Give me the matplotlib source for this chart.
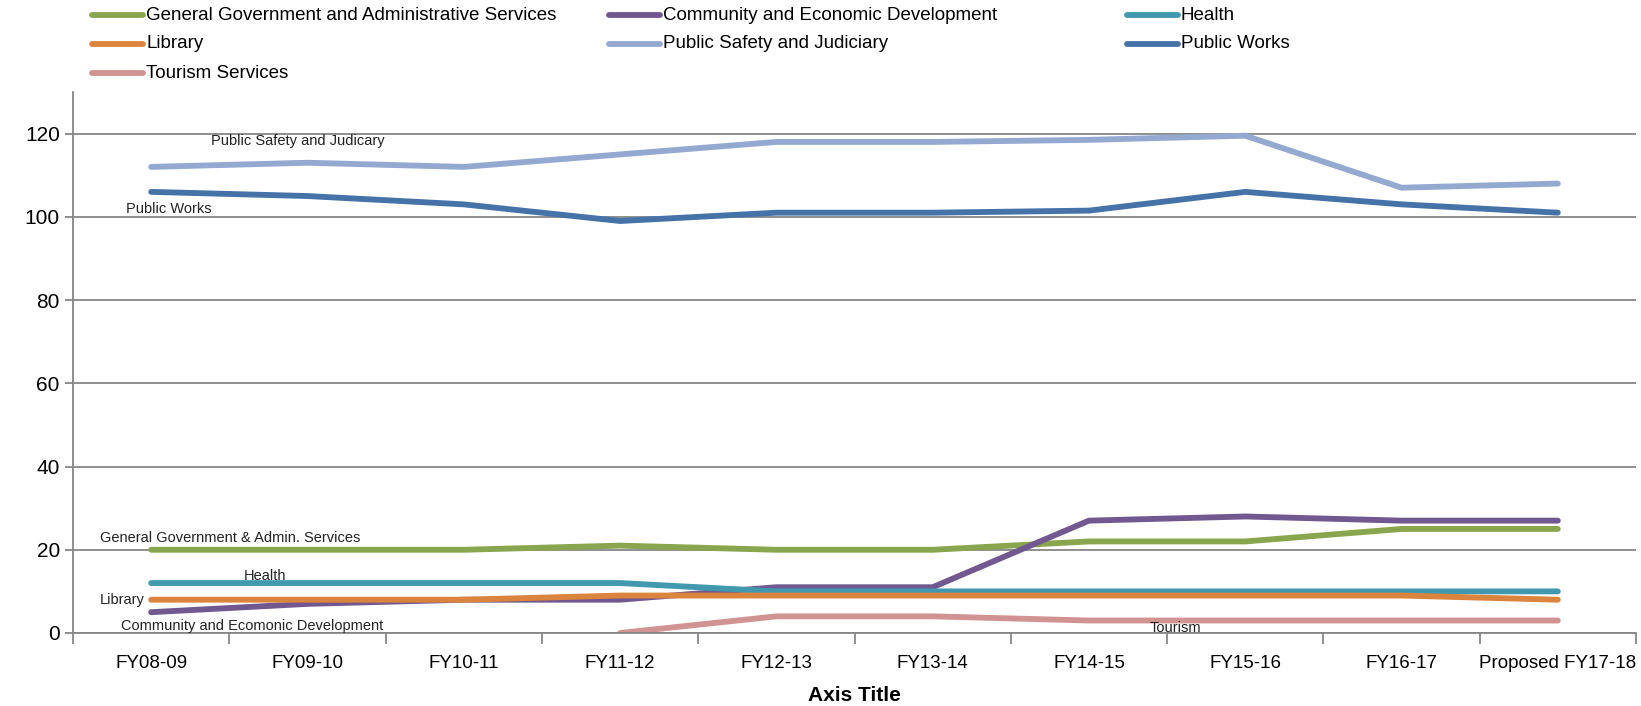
import numpy as np
import matplotlib.pyplot as plt
from matplotlib.lines import Line2D

plt.rcParams['font.family'] = ['Liberation Sans Narrow', 'Liberation Sans', 'DejaVu Sans']

years = ['FY08-09', 'FY09-10', 'FY10-11', 'FY11-12', 'FY12-13',
         'FY13-14', 'FY14-15', 'FY15-16', 'FY16-17', 'Proposed FY17-18']

general_gov = [20, 20, 20, 21, 20, 20, 22, 22, 25, 25]
community = [5, 7, 8, 8, 11, 11, 27, 28, 27, 27]
health = [12, 12, 12, 12, 10, 10, 10, 10, 10, 10]
library = [8, 8, 8, 9, 9, 9, 9, 9, 9, 8]
public_safety = [112, 113, 112, 115, 118, 118, 118.5, 119.5, 107, 108]
public_works = [106, 105, 103, 99, 101, 101, 101.5, 106, 103, 101]
tourism = [np.nan, np.nan, np.nan, 0, 4, 4, 3, 3, 3, 3]

series = [
    ('General Government and Administrative Services', general_gov, '#89A54E'),
    ('Community and Economic Development', community, '#71588F'),
    ('Health', health, '#4198AF'),
    ('Library', library, '#DB843D'),
    ('Public Safety and Judiciary', public_safety, '#93A9CF'),
    ('Public Works', public_works, '#4572A7'),
    ('Tourism Services', tourism, '#D19392'),
]

fig = plt.figure(figsize=(16.41, 7.06), dpi=100)
ax = fig.add_axes([73 / 1641, 1 - 633 / 706, (1636 - 73) / 1641, (633 - 92) / 706])

x = np.arange(len(years))
for name, vals, col in series:
    ax.plot(x, vals, color=col, lw=4.2, solid_capstyle='round',
            solid_joinstyle='round', label=name)

ax.set_xlim(-0.5, len(years) - 0.5)
ax.set_ylim(0, 130)
ax.set_yticks(range(0, 121, 20))
ax.yaxis.grid(True, color='#868686', lw=1.3)
ax.set_axisbelow(True)

# ticks on the category boundaries, labels in the middle
ax.set_xticks(np.arange(-0.5, len(years), 1))
ax.set_xticklabels([])
ax.set_xticks(x, minor=True)
ax.set_xticklabels(years, minor=True)
ax.tick_params(axis='x', which='major', length=8, color='#868686', width=1.3)
ax.tick_params(axis='x', which='minor', length=0, pad=16, labelsize=13.5)
ax.tick_params(axis='y', length=6, color='#868686', width=1.3, labelsize=15)

for s in ['top', 'right']:
    ax.spines[s].set_visible(False)
for s in ['left', 'bottom']:
    ax.spines[s].set_color('#868686')
    ax.spines[s].set_linewidth(1.3)

ax.set_xlabel('Axis Title', fontsize=15, fontweight='bold', labelpad=10)

# text labels next to the lines
notes = [
    ('Public Safety and Judicary', 0.38, 118.3),
    ('Public Works', -0.16, 101.9),
    ('General Government & Admin. Services', -0.33, 22.8),
    ('Health', 0.59, 13.6),
    ('Library', -0.33, 8.0),
    ('Community and Ecomonic Development', -0.19, 1.8),
    ('Tourism', 6.39, 1.3),
]
for txt, nx, ny in notes:
    ax.text(nx, ny, txt, fontsize=10.5, va='center', ha='left', color='#222222')

# legend laid out in three columns along the top
col_x = [92, 609, 1127]
row_y = [15, 44, 73]
W, H = 1641, 706
for i, (name, vals, col) in enumerate(series):
    r, c = divmod(i, 3)
    yy = 1 - row_y[r] / H
    fig.add_artist(Line2D([col_x[c] / W, (col_x[c] + 51) / W], [yy, yy],
                          color=col, lw=4.2, solid_capstyle='round'))
    fig.text((col_x[c] + 54) / W, yy, name, fontsize=13.5, va='center', ha='left')

fig.savefig('out.png', dpi=100)
